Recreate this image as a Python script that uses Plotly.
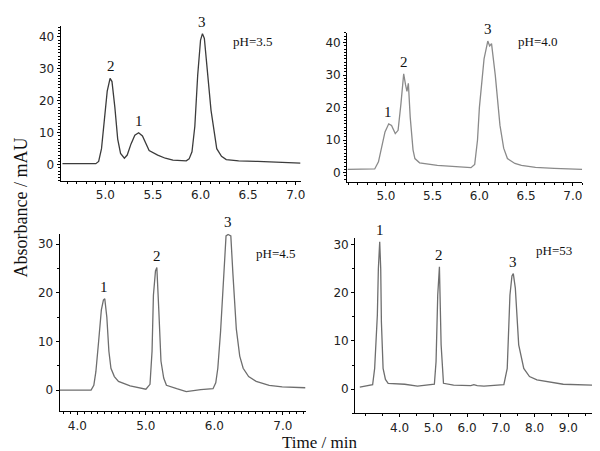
import plotly.graph_objects as go

# ---- data ----
t_35 = [4.55, 4.90, 4.93, 4.96, 4.99, 5.02, 5.05, 5.07, 5.10, 5.13, 5.16, 5.20, 5.23, 5.27, 5.31,
        5.35, 5.39, 5.46, 5.55, 5.63, 5.71, 5.85, 5.88, 5.91, 5.94, 5.97, 6.00, 6.02, 6.04, 6.07,
        6.11, 6.17, 6.22, 6.27, 6.40, 6.60, 6.93, 7.05]
a_35 = [0.3, 0.3, 1.0, 5, 14, 23, 27, 26, 18, 8, 3.5, 2.0, 3.0, 6.5, 9.2,
        10, 9.0, 4.4, 3.0, 2.0, 1.4, 1.2, 1.8, 4, 12, 28, 39, 41, 39.5, 30,
        17, 5, 2.6, 1.6, 1.2, 1.0, 0.8, 0.5]

t_40 = [4.59, 4.88, 4.92, 4.955, 4.99, 5.03, 5.06, 5.10, 5.13, 5.16, 5.19, 5.21, 5.225, 5.24,
        5.26, 5.29, 5.31, 5.36, 5.45, 5.55, 5.75, 5.91, 5.95, 5.98, 6.00, 6.05, 6.09, 6.11, 6.13,
        6.17, 6.22, 6.26, 6.30, 6.38, 6.45, 6.60, 6.80, 7.10]
a_40 = [1.0, 1.1, 3.3, 7.5, 12.5, 15, 14.5, 12, 13, 21, 30.4, 27, 25, 27.5,
        17, 7, 4.3, 3.0, 2.6, 2.2, 1.8, 1.5, 2.5, 10, 20, 35, 40.5, 39, 39.7,
        30, 14.6, 7.5, 4.3, 2.8, 2.2, 1.6, 1.3, 1.0]

t_45 = [3.74, 4.20, 4.24, 4.27, 4.31, 4.35, 4.38, 4.40, 4.43, 4.46, 4.49, 4.54, 4.60, 4.77, 5.00,
        5.06, 5.09, 5.11, 5.14, 5.16, 5.19, 5.22, 5.26, 5.30, 5.45, 5.59, 5.80, 5.98, 6.02, 6.05,
        6.09, 6.12, 6.15, 6.17, 6.20, 6.24, 6.27, 6.32, 6.37, 6.42, 6.50, 6.61, 6.80, 6.99, 7.33]
a_45 = [0.0, 0.0, 1.0, 3.8, 10, 16.5, 18.5, 18.8, 15, 8, 4.5, 2.8, 1.8, 0.9, 0.2,
        1.2, 8, 19.5, 24.5, 25.2, 16, 6, 2.5, 1.0, 0.3, -0.3, 0.1, 0.3, 1.5, 4.5,
        12, 19.5, 28, 31.7, 32, 31.7, 24, 12.6, 7, 4.5, 2.8, 1.8, 1.0, 0.7, 0.5]

t_53 = [2.82, 3.10, 3.20, 3.26, 3.31, 3.34, 3.37, 3.41, 3.44, 3.46, 3.51, 3.58, 3.66, 4.15, 4.53,
        5.03, 5.08, 5.13, 5.18, 5.23, 5.30, 5.60, 6.11, 6.20, 6.30, 6.50, 7.09, 7.19, 7.27, 7.33,
        7.37, 7.43, 7.53, 7.68, 7.85, 8.07, 8.85, 9.83]
a_53 = [0.4, 0.7, 0.9, 4.3, 12, 15.4, 25, 30.6, 25, 14, 4.3, 2.0, 1.2, 1.0, 0.6,
        1.0, 5.7, 19.5, 25.4, 9.2, 1.2, 0.8, 0.7, 0.9, 0.7, 0.6, 0.9, 4.3, 19.5, 23.5,
        24, 21, 9.2, 4.3, 2.6, 1.9, 1.0, 0.8]

# peak labels: (time, height, label)
peaks_35 = [(5.06, 27, "2"), (5.35, 10, "1"), (6.02, 41, "3")]
peaks_40 = [(5.02, 15, "1"), (5.19, 30.4, "2"), (6.09, 40.5, "3")]
peaks_45 = [(4.39, 18.8, "1"), (5.16, 25.2, "2"), (6.20, 32, "3")]
peaks_53 = [(3.41, 30.6, "1"), (5.18, 25.4, "2"), (7.37, 24, "3")]

ph_labels = ["pH=3.5", "pH=4.0", "pH=4.5", "pH=53"]

x_ticks_top = [5.0, 5.5, 6.0, 6.5, 7.0]
x_ticks_45 = [4.0, 5.0, 6.0, 7.0]
x_ticks_53 = [4.0, 5.0, 6.0, 7.0, 8.0, 9.0]
y_ticks_top = [0, 10, 20, 30, 40]
y_ticks_bot = [0, 10, 20, 30]

W, H = 600, 451

def dom(a, b, n):
    return [a / n, b / n]

def ydom(top, bottom):
    return [1 - bottom / H, 1 - top / H]

panels = [
    dict(t=t_35, a=a_35, peaks=peaks_35, ph=ph_labels[0], color="#3c3c3c",
         xd=dom(53, 295, W), yd=ydom(17, 172), xr=[4.53, 7.05], yr=[-5, 43.4],
         xt=x_ticks_top, yt=y_ticks_top, xminor=0.1, yminor=1, phpos=(0.80, 0.90)),
    dict(t=t_40, a=a_40, peaks=peaks_40, ph=ph_labels[1], color="#8a8a8a",
         xd=dom(342, 579, W), yd=ydom(24, 173), xr=[4.585, 7.1], yr=[-2.8, 43],
         xt=x_ticks_top, yt=y_ticks_top, xminor=0.1, yminor=1, phpos=(0.81, 0.94)),
    dict(t=t_45, a=a_45, peaks=peaks_45, ph=ph_labels[2], color="#6e6e6e",
         xd=dom(52, 300, W), yd=ydom(225, 403), xr=[3.74, 7.33], yr=[-4.3, 32.2],
         xt=x_ticks_45, yt=y_ticks_bot, xminor=0.1, yminor=5, phpos=(0.88, 0.89)),
    dict(t=t_53, a=a_53, peaks=peaks_53, ph=ph_labels[3], color="#6e6e6e",
         xd=dom(350, 598, W), yd=ydom(230, 405), xr=[2.68, 9.97], yr=[-5, 31.3],
         xt=x_ticks_53, yt=y_ticks_bot, xminor=0.5, yminor=5, phpos=(0.81, 0.93)),
]

fig = go.Figure()
tick_font = dict(family="DejaVu Sans", size=12, color="#222")
annotations = []
for i, p in enumerate(panels, start=1):
    sfx = "" if i == 1 else str(i)
    fig.add_trace(go.Scatter(x=p["t"], y=p["a"], mode="lines",
                             line=dict(color=p["color"], width=1.3),
                             xaxis="x" + sfx, yaxis="y" + sfx,
                             showlegend=False, hoverinfo="skip"))
    common = dict(showline=True, linecolor="black", linewidth=1, showgrid=False,
                  zeroline=False, ticks="outside", ticklen=3, tickcolor="black",
                  tickfont=tick_font)
    fig.update_layout(**{
        "xaxis" + sfx: dict(domain=p["xd"], range=p["xr"], anchor="y" + sfx,
                            tickvals=p["xt"], tickformat=".1f",
                            minor=dict(ticks="outside", ticklen=2, dtick=p["xminor"],
                                       tickcolor="black"), **common),
        "yaxis" + sfx: dict(domain=p["yd"], range=p["yr"], anchor="x" + sfx,
                            tickvals=p["yt"],
                            minor=dict(ticks="outside", ticklen=2, dtick=p["yminor"],
                                       tickcolor="black"), **common),
    })
    for (pt, ph_, lab) in p["peaks"]:
        annotations.append(dict(x=pt, y=ph_, xref="x" + sfx, yref="y" + sfx, text=lab,
                                showarrow=False, xanchor="center", yanchor="bottom", yshift=2,
                                font=dict(family="Liberation Serif", size=15, color="#111")))
    annotations.append(dict(x=p["phpos"][0], y=p["phpos"][1],
                            xref="x" + sfx + " domain", yref="y" + sfx + " domain",
                            text=p["ph"], showarrow=False, xanchor="center", yanchor="middle",
                            font=dict(family="Liberation Serif", size=13, color="#111")))

annotations.append(dict(x=13 / W, y=1 - 199 / H, xref="paper", yref="paper",
                        text="Absorbance / mAU", textangle=-90, showarrow=False,
                        xanchor="center", yanchor="middle",
                        font=dict(family="Liberation Serif", size=18, color="#111")))
annotations.append(dict(x=314 / W, y=1 - 434 / H, xref="paper", yref="paper",
                        text="Time / min", showarrow=False,
                        xanchor="center", yanchor="middle",
                        font=dict(family="Liberation Serif", size=17, color="#111")))

fig.update_layout(width=W, height=H, margin=dict(l=0, r=0, t=0, b=0),
                  paper_bgcolor="white", plot_bgcolor="white",
                  annotations=annotations)

fig.write_html("out.html")
